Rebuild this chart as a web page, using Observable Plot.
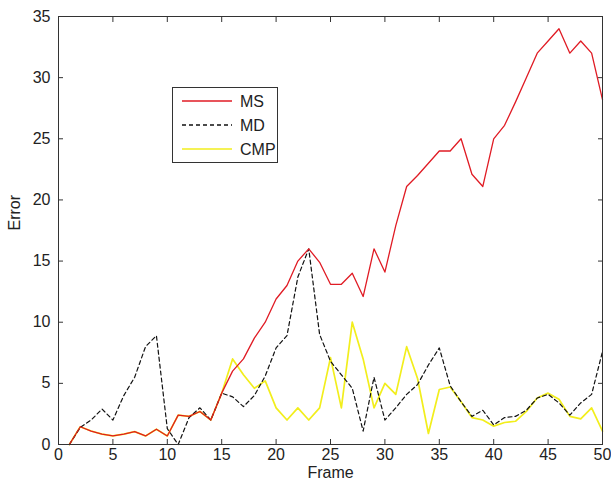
<!DOCTYPE html>
<html><head><meta charset="utf-8">
<script src="https://cdn.jsdelivr.net/npm/d3@7"></script>
<script src="https://cdn.jsdelivr.net/npm/@observablehq/plot@0.6"></script>
<style>
body{margin:0;background:#fff;}
#wrap{position:relative;width:611px;height:488px;font-family:"Liberation Sans",Arial,sans-serif;}
</style></head><body><div id="wrap"></div>
<script>
const frames = [1,2,3,4,5,6,7,8,9,10,11,12,13,14,15,16,17,18,19,20,21,22,23,24,25,26,27,28,29,30,31,32,33,34,35,36,37,38,39,40,41,42,43,44,45,46,47,48,49,50];
const msValues = [0,1.45,1.1,0.85,0.7,0.85,1.05,0.7,1.25,0.7,2.4,2.3,2.7,2.0,4.2,6.0,7.0,8.7,10.0,11.9,13.0,15.0,16.0,14.9,13.1,13.1,14.0,12.1,16.0,14.1,17.9,21.1,22.0,23.0,24.0,24.0,25.0,22.1,21.1,25.0,26.1,28.0,30.0,32.0,33.0,34.0,32.0,33.0,32.0,28.2];
const mdValues = [0,1.4,2.0,2.9,2.0,4.0,5.5,8.0,8.9,1.3,0,2.2,3.0,2.0,4.2,3.9,3.1,4.0,5.6,7.9,8.9,13.7,16.0,9.0,6.8,5.7,4.6,1.1,5.5,2.0,3.0,4.1,4.9,6.5,7.9,4.8,3.5,2.3,2.8,1.6,2.2,2.3,2.8,3.8,4.1,3.4,2.4,3.4,4.1,7.6];
const cmpValues = [0,1.45,1.1,0.85,0.7,0.85,1.05,0.7,1.25,0.7,2.4,2.3,2.7,2.0,4.2,7.0,5.7,4.6,5.2,3.0,2.0,3.0,2.0,3.0,7.1,3.0,10.0,7.0,3.0,5.0,4.1,8.0,5.4,0.9,4.5,4.7,3.5,2.2,2.0,1.5,1.8,1.9,2.7,3.8,4.2,3.7,2.3,2.1,3.0,1.1];
const xTicks = [0,5,10,15,20,25,30,35,40,45,50];
const yTicks = [0,5,10,15,20,25,30,35];
const seriesNames = ["MS","MD","CMP"];
const seriesColors = ["#e01b24","#111111","#f2ee1c"];
const seriesDash = [null,"4,3",null];

const rows = (vals, name) => frames.map((f, i) => ({frame: f, value: vals[i], series: name}));
const ms = rows(msValues, "MS"), md = rows(mdValues, "MD"), cmp = rows(cmpValues, "CMP");

const font = "Liberation Sans, Arial, sans-serif";
const plot = Plot.plot({
  width: 611, height: 488,
  marginLeft: 58, marginRight: 9, marginTop: 16, marginBottom: 44,
  style: {fontFamily: font, fontSize: "16px", color: "#222", background: "#fff"},
  x: {domain: [0, 50], label: null},
  y: {domain: [0, 35], label: null},
  marks: [
    Plot.line(cmp, {x: "frame", y: "value", stroke: seriesColors[2], strokeWidth: 1.7}),
    Plot.line(md, {x: "frame", y: "value", stroke: seriesColors[1], strokeWidth: 1.2, strokeDasharray: seriesDash[1]}),
    Plot.line(ms, {x: "frame", y: "value", stroke: seriesColors[0], strokeWidth: 1.3}),
    Plot.frame({stroke: "#333", strokeWidth: 1}),
    Plot.axisX({ticks: xTicks, tickSize: -5, tickPadding: 9, label: null, stroke: "#333"}),
    Plot.axisX({anchor: "top", ticks: xTicks, tickSize: -5, tickFormat: () => "", label: null, stroke: "#333"}),
    Plot.axisY({ticks: yTicks, tickSize: -5, tickPadding: 13, label: null, stroke: "#333"}),
    Plot.axisY({anchor: "right", ticks: yTicks, tickSize: -5, tickFormat: () => "", label: null, stroke: "#333"}),
    Plot.text(["Frame"], {frameAnchor: "bottom", dy: 33, fontSize: 16, fill: "#222"}),
    Plot.text(["Error"], {frameAnchor: "left", dx: -44, rotate: -90, fontSize: 16, fill: "#222"})
  ]
});
const wrap = document.getElementById("wrap");
wrap.appendChild(plot);

// legend box
const leg = d3.select(wrap).append("svg")
  .style("position", "absolute").style("left", "172px").style("top", "87px")
  .attr("width", 107).attr("height", 76);
leg.append("rect").attr("x", 0.5).attr("y", 0.5).attr("width", 105).attr("height", 75)
  .attr("fill", "#fff").attr("stroke", "#333");
seriesNames.forEach((name, i) => {
  const y = 14 + i * 24;
  leg.append("line").attr("x1", 10).attr("x2", 60).attr("y1", y).attr("y2", y)
    .attr("stroke", seriesColors[i]).attr("stroke-width", 1.3)
    .attr("stroke-dasharray", seriesDash[i]);
  leg.append("text").attr("x", 68).attr("y", y).attr("dy", "0.35em")
    .attr("font-family", font).attr("font-size", 16).attr("fill", "#222").text(name);
});
</script></body></html>
